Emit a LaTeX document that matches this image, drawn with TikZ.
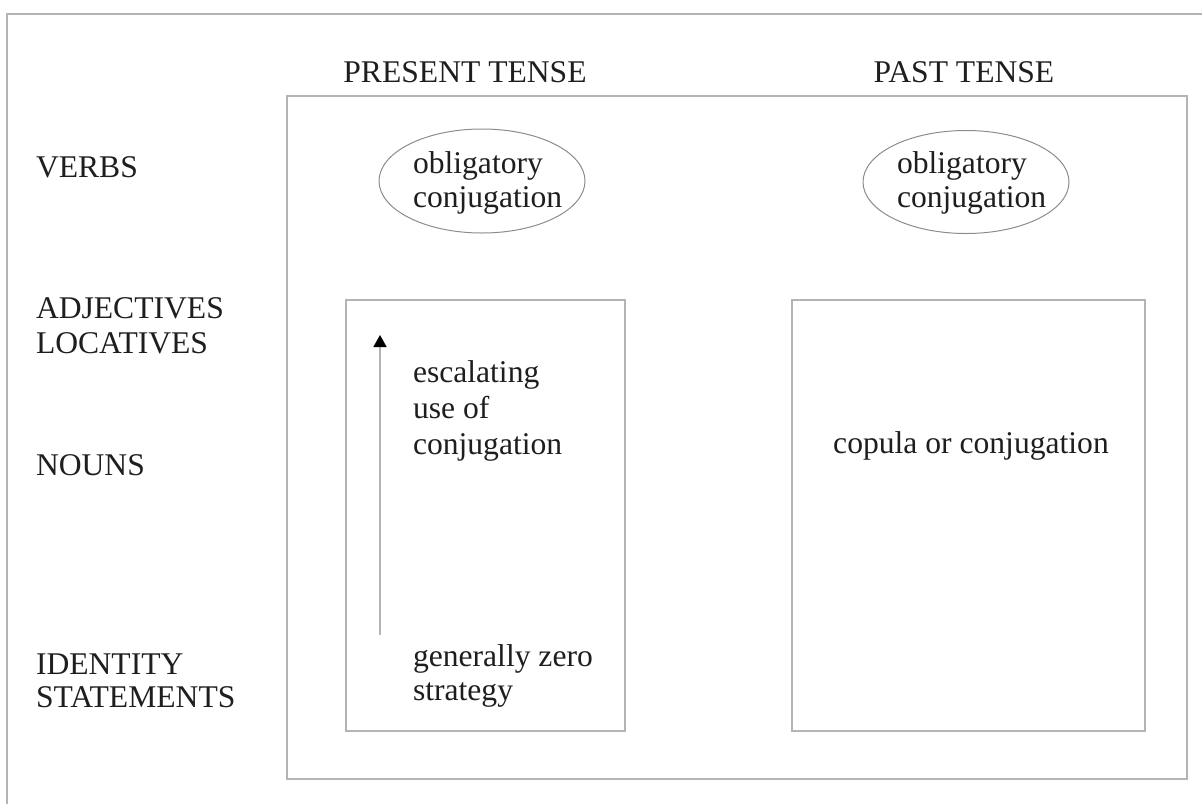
\documentclass[tikz,border=0pt]{standalone}
\usepackage{fontspec}
\setmainfont{Liberation Serif}
\usetikzlibrary{arrows.meta,shapes.geometric}
\definecolor{framegray}{HTML}{B4B4B4}
\definecolor{ellgray}{HTML}{8C8C8C}
\definecolor{inkdark}{HTML}{1E1E1E}
\begin{document}
\begin{tikzpicture}[x=0.5pt,y=-0.5pt,
  every node/.style={inner sep=0pt, outer sep=0pt, text=inkdark, font=\fontsize{15.8pt}{17.5pt}\selectfont},
  frameline/.style={draw=framegray, line width=0.8pt},
  label/.style={anchor=base west, align=left},
  head/.style={anchor=base},
  ellshape/.style={draw=ellgray, line width=0.5pt, ellipse}
]
\useasboundingbox (0,0) rectangle (1202,804);
% outer frame (left and top edges visible)
\draw[frameline] (7,804) -- (7,14) -- (1202,14);
% main box
\node[frameline, rectangle, anchor=north west, minimum width=450pt, minimum height=341.5pt] (main) at (287,96) {};
% inner boxes
\node[frameline, rectangle, anchor=north west, minimum width=139.5pt, minimum height=215.5pt] (presbox) at (346,300) {};
\node[frameline, rectangle, anchor=north west, minimum width=176.5pt, minimum height=215.5pt] (pastbox) at (792,300) {};
% ellipses
\node[ellshape, minimum width=103pt, minimum height=52pt] (presell) at (482,181) {};
\node[ellshape, minimum width=103pt, minimum height=51.5pt] (pastell) at (966,182) {};
% ellipse texts (base anchor = last line)
\node[label, font=\fontsize{15.8pt}{17pt}\selectfont] (presobl) at (413,207) {obligatory\\conjugation};
\node[label, font=\fontsize{15.8pt}{17pt}\selectfont] (pastobl) at (897,207) {obligatory\\conjugation};
% column headings
\node[head] (present) at (465,82) {PRESENT TENSE};
\node[head] (past) at (964,82) {PAST TENSE};
% row labels
\node[label] (verbs) at (36,177) {VERBS};
\node[label] (adj) at (36,353) {ADJECTIVES\\LOCATIVES};
\node[label] (nouns) at (36,475) {NOUNS};
\node[label, font=\fontsize{15.8pt}{16.5pt}\selectfont] (ident) at (36,707) {IDENTITY\\STATEMENTS};
% present box contents
\node[label, font=\fontsize{15.8pt}{18pt}\selectfont] (escal) at (413,454) {escalating\\use of\\conjugation};
\node[label, font=\fontsize{15.8pt}{17pt}\selectfont] (zero) at (413,700) {generally zero\\strategy};
\coordinate (arrbot) at (380,635);
\coordinate (arrtop) at (380,335);
\draw[draw=framegray, line width=0.8pt, -{Triangle[color=black, length=6pt, width=6.5pt]}] (arrbot) -- (arrtop);
% past box content
\node[head] (copula) at (971,453) {copula or conjugation};
\end{tikzpicture}
\end{document}
